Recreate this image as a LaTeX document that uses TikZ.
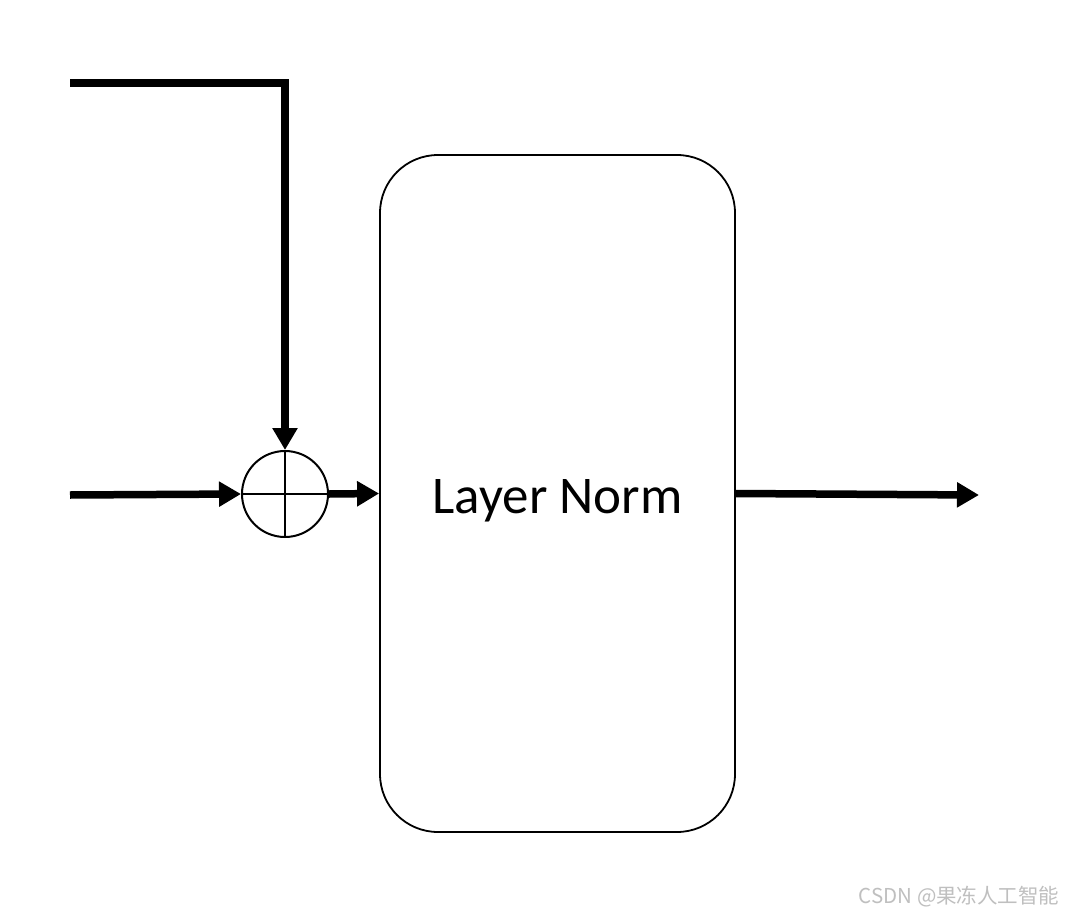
\documentclass[tikz,border=0pt]{standalone}
\usepackage{fontspec}
\setmainfont{Carlito}
\newfontfamily\cjk{Noto Sans CJK SC}
\usetikzlibrary{arrows.meta}
\tikzset{
  flow/.style={line width=7.5pt, -{Triangle[length=22pt,width=24pt]}},
  normbox/.style={draw, line width=1.8pt, rounded corners=58pt, minimum width=355pt, minimum height=677pt, inner sep=0pt},
  normlabel/.style={font=\fontsize{53}{58}\selectfont, inner sep=0pt},
  addnode/.style={draw, circle, line width=2pt, minimum size=86pt, inner sep=0pt},
}
\begin{document}
\begin{tikzpicture}[x=1pt,y=-1pt]
\useasboundingbox (0,0) rectangle (1065,915);
\fill[white] (0,0) rectangle (1065,915);
\node[normbox] (ln) at (557.5,493.5) {};
\node[normlabel, anchor=base] (lntext) at (557.5,513) {Layer Norm};
\node[addnode] (add) at (285,494) {};
\draw[line width=2pt] (add.north) -- (add.south) (add.west) -- (add.east);
\coordinate (topin) at (70,83);
\coordinate (corner) at (285,83);
\coordinate (leftin) at (70,495);
\coordinate (out) at (979,495);
\draw[flow] (topin) -- (corner) -- (add.north);
\draw[flow] (leftin) -- (add.west);
\draw[flow] (add.east) -- (ln.west);
\draw[flow] (ln.east) -- (out);
\node[text=black!25, font=\cjk\fontsize{20.5}{22}\selectfont, anchor=east] (wm) at (1063,897) {CSDN @果冻人工智能};
\end{tikzpicture}
\end{document}
